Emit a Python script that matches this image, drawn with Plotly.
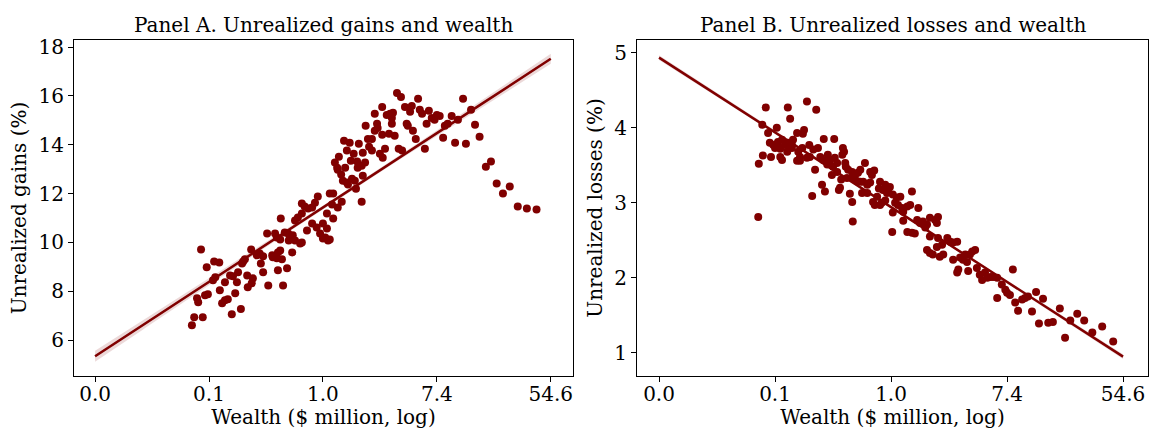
import numpy as np
import plotly.graph_objects as go

# ---------------- Data (log wealth, percent) ----------------
gains_x = [-2.30, -2.26, -2.11, -2.21, -2.19, -2.14, -2.04, -1.91, -1.82, -2.07, -2.02, -1.93, -1.89, -1.81,
           -1.72, -1.77, -1.72, -1.67, -1.60, -1.44, -1.54, -1.63, -1.58, -1.49, -1.51, -1.42, -1.40, -1.37,
           -1.26, -1.33, -1.23, -1.32, -1.25, -1.16, -1.11, -1.05, -1.09, -1.05, -0.96, -0.98, -0.89, -0.88,
           -0.81, -0.84, -0.81, -0.75, -0.79, -0.75, -0.72, -0.79, -0.63, -0.70, -0.74, -0.67, -0.61, -0.58,
           -0.53, -0.60, -0.49, -0.40, -0.37, -0.54, -0.49, -0.44, -0.37, -0.37, -0.32, -0.26, -0.19, -0.14,
           -0.28, -0.19, -0.11, -0.09, -0.05, 0.00, 0.07, 0.04, 0.00, 0.09, 0.07,
           1.30, 1.37, 1.67, 2.46, 1.04, 1.44, 1.56, 1.53, 1.70, 1.74, 1.86, 0.91, 1.12, 1.18, 1.23, 1.21,
           1.91, 1.96, 2.00, 2.05, 2.26, 2.60, 0.75, 0.95, 0.96, 0.91, 1.21, 1.47, 1.49, 1.82, 2.14, 2.19,
           2.37, 2.67, 1.58, 1.04, 1.16, 1.26, 0.79, 0.86, 1.63, 2.11, 2.32, 2.51, 2.75, 0.37, 0.47, 0.63,
           0.81, 0.86, 1.09, 1.00, 1.05, 1.33, 1.39, 1.79, 0.42, 0.54, 0.70, 0.28, 0.49, 0.60, 0.68, 0.74,
           0.21, 0.25, 0.26, 0.39, 0.61, 0.32, 0.35, 0.42, 0.44, 0.51, 0.56, 0.70, 0.58, 0.18, 0.12, 0.33,
           0.68, 0.16, 0.26, 0.18, 0.12, 2.86, 2.95, 3.05, 3.16, 3.28, 3.42, 3.58, 3.75]
gains_y = [6.61, 6.94, 6.94, 7.71, 7.55, 9.71, 8.98, 9.22, 9.18, 7.84, 7.88, 8.45, 8.57, 8.04,
           8.37, 7.51, 7.63, 7.67, 7.06, 7.27, 7.92, 8.65, 8.61, 8.78, 8.37, 9.14, 9.22, 9.31,
           9.71, 8.65, 8.53, 8.16, 8.33, 9.47, 9.55, 9.43, 9.14, 8.78, 8.24, 10.37, 9.47, 9.39,
           9.35, 10.37, 10.20, 10.12, 9.59, 9.67, 9.31, 8.86, 8.94, 8.24, 10.98, 10.41, 10.37, 10.20,
           10.29, 10.08, 10.08, 9.96, 10.00, 9.59, 10.90, 11.02, 11.18, 11.59, 11.47, 11.39, 11.43, 11.63,
           10.49, 10.78, 10.61, 11.88, 10.37, 10.78, 10.57, 10.20, 10.16, 10.08, 11.18,
           16.12, 15.96, 15.88, 15.88, 15.55, 15.55, 15.59, 15.35, 15.43, 15.27, 15.39, 15.27, 15.22, 15.27, 15.31, 15.10,
           15.10, 15.02, 15.22, 15.18, 15.18, 15.43, 14.78, 14.86, 14.69, 14.57, 14.86, 14.86, 14.78, 14.86, 14.78, 14.86,
           15.02, 14.82, 14.57, 14.41, 14.45, 14.37, 14.24, 14.24, 14.24, 14.29, 14.08, 14.04, 14.33, 14.16, 14.08, 14.04,
           13.92, 13.76, 13.84, 13.63, 13.47, 13.84, 13.76, 13.84, 13.76, 13.63, 13.67, 13.51, 13.35, 13.31, 13.14, 13.27,
           13.27, 13.06, 12.98, 13.06, 13.06, 12.78, 12.53, 12.45, 12.37, 12.61, 12.53, 12.73, 12.20, 12.00, 12.00, 11.67,
           11.67, 11.55, 11.43, 10.98, 10.12, 13.10, 13.31, 12.41, 12.00, 12.29, 11.47, 11.39, 11.35]

losses_x = [-2.29, -2.16, -1.78, -1.45, -1.29, -1.74, -2.22, -1.97, -2.12, -1.62, -1.50, -1.52, -2.09, -2.03,
            -1.95, -1.88, -1.83, -1.78, -1.71, -1.69, -2.00, -1.91, -1.79, -1.71, -2.21, -2.07, -2.28, -1.91,
            -1.88, -1.60, -1.53, -1.57, -1.62, -1.57, -1.41, -1.34, -1.26, -1.40, -1.45, -1.31, -1.16, -0.98,
            -1.22, -1.17, -1.09, -1.05, -0.97, -0.93, -1.00, -1.10, -0.83, -0.81, -0.84, -0.79, -0.74, -0.78,
            -1.02, -0.93, -0.86, -0.76, -1.19, -1.14, -1.36, -0.90, -0.88, -0.67, -0.62, -0.57, -0.53, -0.66,
            -0.59, -0.53, -0.45, -0.36, -0.29, -0.33, -0.48, -0.41, -0.36, -0.71, -0.67, -0.41, -0.66, -0.50,
            -0.19, -0.10, -0.02, -0.14, -0.21, -0.07, -0.05, -0.24, -0.31, -0.28, -0.19, -0.10, -0.16, 0.03,
            0.10, 0.16, 0.07, 0.12, 0.03, 0.19, 0.21, 0.28, 0.33, 0.36, 0.47, 0.21, 0.28, 0.36, 0.41, 0.02,
            0.45, 0.50, 0.55, 0.62, 0.59, 0.67, 0.81, 0.76, 0.79, 0.67, 0.81, 0.88, 0.97, 1.02, 1.07, 1.14,
            0.62, 0.67, 0.72, 0.84, 0.90, 0.79, 1.07, 1.19, 1.24, 1.31, 1.14, 1.16, 1.33, 1.40, 1.45, 1.36,
            1.28, 1.48, 1.53, 1.57, 1.62, 1.71, 1.76, 1.83, 1.66, 1.83, 1.91, 1.97, 2.00, 2.05, 2.10, 2.14,
            2.19, 2.26, 2.31, 2.36, 2.43, 2.50, 2.62, 2.55, 2.71, 2.79, 2.91, 3.00, 3.09, 3.21, 3.33, 3.47,
            3.64, 3.83]
losses_y = [2.81, 4.27, 4.27, 4.35, 4.24, 4.12, 4.04, 4.00, 3.93, 3.93, 3.97, 3.92, 3.80, 3.77,
            3.81, 3.84, 3.77, 3.80, 3.77, 3.84, 3.73, 3.72, 3.68, 3.73, 3.63, 3.61, 3.52, 3.61,
            3.57, 3.68, 3.73, 3.61, 3.56, 3.56, 3.77, 3.71, 3.73, 3.61, 3.60, 3.44, 3.85, 3.85,
            3.61, 3.57, 3.64, 3.57, 3.60, 3.53, 3.48, 3.51, 3.73, 3.68, 3.64, 3.53, 3.44, 3.48,
            3.37, 3.41, 3.31, 3.33, 3.24, 3.15, 3.09, 3.17, 3.20, 3.41, 3.37, 3.40, 3.44, 3.33,
            3.29, 3.28, 3.53, 3.41, 3.43, 3.37, 3.28, 3.24, 3.27, 3.12, 3.01, 3.13, 2.75, 3.13,
            3.28, 3.24, 3.21, 3.17, 3.19, 3.13, 3.17, 3.08, 3.01, 2.97, 2.97, 3.03, 3.00, 3.11,
            3.07, 3.08, 3.00, 2.97, 2.87, 2.93, 2.88, 2.95, 2.97, 3.15, 2.93, 2.76, 2.61, 2.60, 2.59, 2.61,
            2.77, 2.73, 2.75, 2.71, 2.67, 2.80, 2.81, 2.77, 2.73, 2.55, 2.53, 2.44, 2.53, 2.48, 2.47, 2.48,
            2.37, 2.33, 2.31, 2.28, 2.31, 2.41, 2.24, 2.27, 2.24, 2.21, 2.07, 2.11, 2.09, 2.35, 2.37, 2.31,
            2.31, 2.13, 2.04, 1.97, 2.07, 2.01, 2.01, 2.00, 2.00, 1.73, 1.91, 1.84, 1.80, 1.77, 2.11, 1.67,
            1.56, 1.71, 1.73, 1.75, 1.55, 1.81, 1.72, 1.39, 1.40, 1.41, 1.59, 1.20, 1.43, 1.52, 1.43, 1.27,
            1.35, 1.15]

tick_vals = [-4, -2, 0, 2, 4]
tick_text = ["0.0", "0.1", "1.0", "7.4", "54.6"]
gains_ticks = [6, 8, 10, 12, 14, 16, 18]
loss_ticks = [1, 2, 3, 4, 5]

titles = ["Panel A. Unrealized gains and wealth", "Panel B. Unrealized losses and wealth"]
ytitles = ["Unrealized gains (%)", "Unrealized losses (%)"]
xtitle = "Wealth ($ million, log)"

COL = "#800000"
FONT = "DejaVu Serif"
FS = 20


def fit(x, y, grid, z=0.67):
    x = np.asarray(x); y = np.asarray(y)
    b, a = np.polyfit(x, y, 1)
    n = len(x)
    resid = y - (a + b * x)
    s = np.sqrt(np.sum(resid ** 2) / (n - 2))
    sxx = np.sum((x - x.mean()) ** 2)
    yhat = a + b * grid
    se = s * np.sqrt(1.0 / n + (grid - x.mean()) ** 2 / sxx)
    return yhat, yhat - z * se, yhat + z * se


grid = np.linspace(tick_vals[0], tick_vals[-1], 200)

fig = go.Figure()
panels = [(gains_x, gains_y, "x", "y"), (losses_x, losses_y, "x2", "y2")]
for xs, ys, xa, ya in panels:
    yhat, lo, hi = fit(xs, ys, grid)
    fig.add_trace(go.Scatter(x=np.concatenate([grid, grid[::-1]]), y=np.concatenate([hi, lo[::-1]]),
                             fill="toself", fillcolor="rgba(128,0,0,0.15)", line=dict(width=0),
                             mode="lines", hoverinfo="skip", showlegend=False, xaxis=xa, yaxis=ya))
    fig.add_trace(go.Scatter(x=xs, y=ys, mode="markers",
                             marker=dict(color=COL, size=8, line=dict(width=0)),
                             showlegend=False, xaxis=xa, yaxis=ya))
    fig.add_trace(go.Scatter(x=grid, y=yhat, mode="lines", line=dict(color=COL, width=2.5),
                             showlegend=False, xaxis=xa, yaxis=ya))

W, H = 1149, 429
L, R, T, B = 74, 1, 40, 53
PW = W - L - R


def dom(a, b):
    return [(a - L) / PW, (b - L) / PW]


tfont = dict(family=FONT, size=FS, color="black")
axis_common = dict(showline=True, linecolor="black", linewidth=1, mirror=True, ticks="outside",
                   ticklen=5, tickcolor="black", showgrid=False, zeroline=False, automargin=False,
                   tickfont=tfont)
xcommon = dict(axis_common, tickvals=tick_vals, ticktext=tick_text, ticklabelstandoff=-5,
               title=dict(text=xtitle, font=tfont, standoff=8))

fig.update_layout(
    width=W, height=H, margin=dict(l=L, r=R, t=T, b=B, autoexpand=False),
    plot_bgcolor="white", paper_bgcolor="white",
    xaxis=dict(xcommon, domain=dom(74, 573), range=[-4.37, 4.39], anchor="y"),
    xaxis2=dict(xcommon, domain=dom(637, 1148), range=[-4.38, 4.43], anchor="y2"),
    yaxis=dict(axis_common, domain=[0, 1], range=[4.53, 18.29], tickvals=gains_ticks, anchor="x",
               title=dict(text=ytitles[0], font=tfont, standoff=6)),
    yaxis2=dict(axis_common, domain=[0, 1], range=[0.69, 5.17], tickvals=loss_ticks, anchor="x2",
                title=dict(text=ytitles[1], font=tfont, standoff=6)),
    annotations=[
        dict(text=titles[0], x=sum(dom(74, 573)) / 2, y=1, xref="paper", yref="paper", yanchor="bottom",
             xanchor="center", yshift=1, showarrow=False, font=tfont),
        dict(text=titles[1], x=sum(dom(637, 1148)) / 2, y=1, xref="paper", yref="paper", yanchor="bottom",
             xanchor="center", yshift=1, showarrow=False, font=tfont),
    ],
)

fig.write_html("out.html", config={"displayModeBar": False},
               post_script="document.body.style.margin='0px';")
